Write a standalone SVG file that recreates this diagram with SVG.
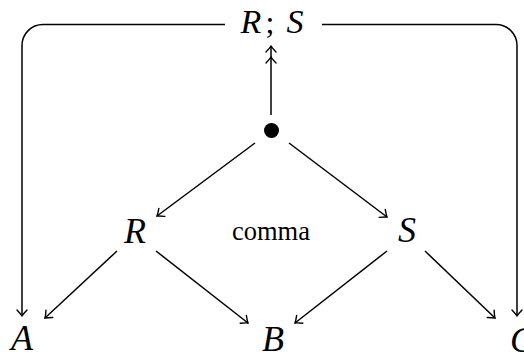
<svg xmlns="http://www.w3.org/2000/svg" width="524" height="354" viewBox="0 0 524 354">
<defs>
<marker id="to" markerUnits="userSpaceOnUse" markerWidth="16" markerHeight="16" refX="0" refY="0" viewBox="-8 -8 16 16" orient="auto" overflow="visible">
<path d="M -6 -5 Q -2 -1.2 0 0 Q -2 1.2 -6 5" fill="none" stroke="#000" stroke-width="1.4" stroke-linecap="round"/>
</marker>
<marker id="to2" markerUnits="userSpaceOnUse" markerWidth="24" markerHeight="16" refX="0" refY="0" viewBox="-20 -8 24 16" orient="auto" overflow="visible">
<path d="M -6 -5 Q -2 -1.2 0 0 Q -2 1.2 -6 5 M -17 -5 Q -13 -1.2 -11 0 Q -13 1.2 -17 5" fill="none" stroke="#000" stroke-width="1.4" stroke-linecap="round"/>
</marker>
</defs>
<style>
.e{fill:none;stroke:#000;stroke-width:1.5}
.a{marker-end:url(#to)}
text{font-family:'Liberation Serif','Times New Roman',serif;fill:#000;text-anchor:middle}
.m{font-style:italic;font-size:36px}
.t{font-size:28px}
</style>
<rect width="524" height="354" fill="#fff"/>
<g id="connectors">
<path class="e a" d="M 225 24.5 H 43 A 21 21 0 0 0 22 45.5 V 316"/>
<path class="e a" d="M 322 24.5 H 496 A 21 21 0 0 1 517 45.5 V 316"/>
<path class="e" d="M 271 115 V 46" marker-end="url(#to2)"/>
<path class="e a" d="M 255 143 L 157 216"/>
<path class="e a" d="M 289 143 L 387 217"/>
<path class="e a" d="M 117 251 L 45 318"/>
<path class="e a" d="M 156 251 L 248 323"/>
<path class="e a" d="M 387 251 L 295 323"/>
<path class="e a" d="M 425 251 L 495 318"/>
</g>
<g id="RS">
<text class="m" x="251" y="33" style="font-size:34px">R</text>
<text class="t" x="270" y="33" style="font-size:32px">;</text>
<text class="m" x="295" y="33" style="font-size:34px">S</text>
</g>
<g id="dot"><circle cx="271.5" cy="130.5" r="7.5" fill="#000"/></g>
<g id="R"><text class="m" x="135" y="243">R</text></g>
<g id="S"><text class="m" x="407" y="242">S</text></g>
<g id="comma"><text class="t" x="271" y="240" textLength="78" lengthAdjust="spacingAndGlyphs">comma</text></g>
<g id="A"><text class="m" x="22" y="350">A</text></g>
<g id="B"><text class="m" x="273" y="351">B</text></g>
<g id="C"><text class="m" x="522" y="352">C</text></g>
</svg>
